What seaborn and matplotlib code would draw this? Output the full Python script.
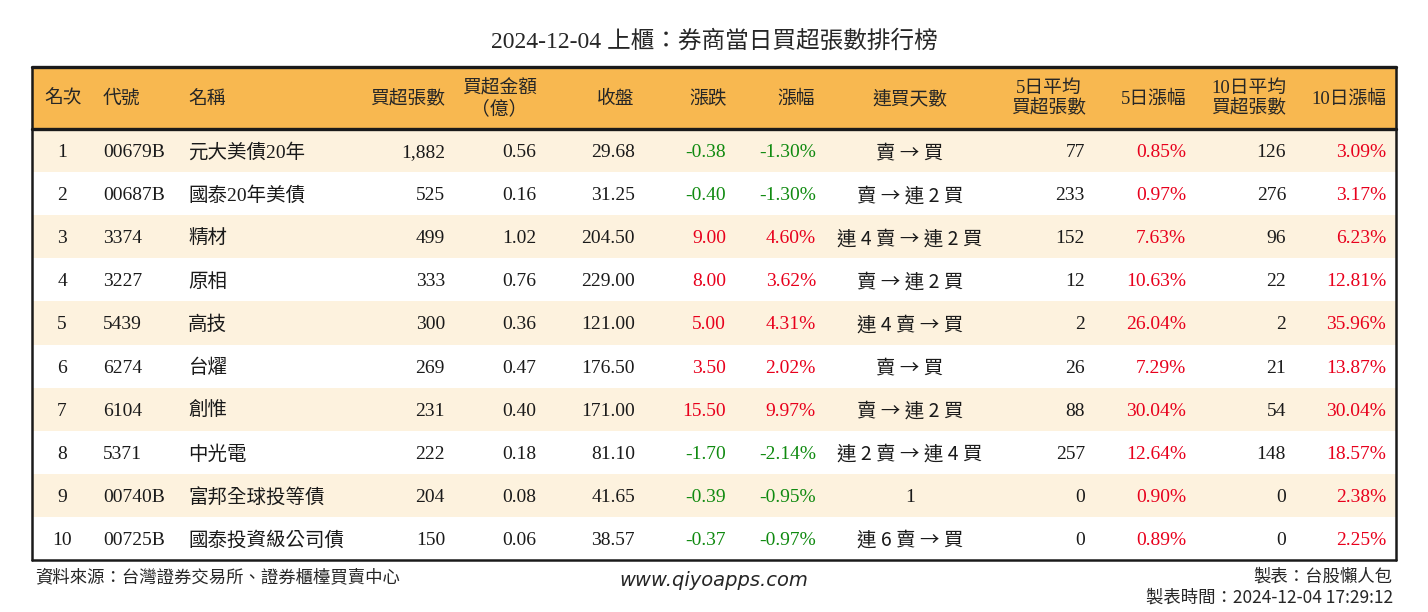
""" Broker net-buy ranking table (TPEx) """

import numpy as np
import seaborn as sns
from matplotlib import pyplot as plt
from matplotlib.colors import ListedColormap
from matplotlib.patches import Rectangle

# #############################################
# Data
rank = [1, 2, 3, 4, 5, 6, 7, 8, 9, 10]
codes = ['00679B', '00687B', '3374', '3227', '5439', '6274', '6104', '5371',
         '00740B', '00725B']
names = ['元大美債20年', '國泰20年美債', '精材', '原相', '高技', '台燿', '創惟',
         '中光電', '富邦全球投等債', '國泰投資級公司債']
net_buy = [1882, 525, 499, 333, 300, 269, 231, 222, 204, 150]
amount = [0.56, 0.16, 1.02, 0.76, 0.36, 0.47, 0.40, 0.18, 0.08, 0.06]
close = [29.68, 31.25, 204.50, 229.00, 121.00, 176.50, 171.00, 81.10, 41.65, 38.57]
change = [-0.38, -0.40, 9.00, 8.00, 5.00, 3.50, 15.50, -1.70, -0.39, -0.37]
pct = [-1.30, -1.30, 4.60, 3.62, 4.31, 2.02, 9.97, -2.14, -0.95, -0.97]
streak = ['賣 → 買', '賣 → 連 2 買', '連 4 賣 → 連 2 買', '賣 → 連 2 買',
          '連 4 賣 → 買', '賣 → 買', '賣 → 連 2 買', '連 2 賣 → 連 4 買', '1',
          '連 6 賣 → 買']
avg5 = [77, 233, 152, 12, 2, 26, 88, 257, 0, 0]
pct5 = [0.85, 0.97, 7.63, 10.63, 26.04, 7.29, 30.04, 12.64, 0.90, 0.89]
avg10 = [126, 276, 96, 22, 2, 21, 54, 148, 0, 0]
pct10 = [3.09, 3.17, 6.23, 12.81, 35.96, 13.87, 30.04, 18.57, 2.38, 2.25]

headers = ['名次', '代號', '名稱', '買超張數', '買超金額\n（億）', '收盤', '漲跌',
           '漲幅', '連買天數', '5日平均\n買超張數', '5日漲幅', '10日平均\n買超張數',
           '10日漲幅']

title = '2024-12-04 上櫃：券商當日買超張數排行榜'

# Colours
ORANGE = '#F8B850'
CREAM = '#FDF2DE'
RED = '#E8001C'
GREEN = '#108A10'

FONT = ['Liberation Serif', 'Noto Sans CJK TC']
SANS = ['Noto Sans CJK TC', 'DejaVu Sans']

# Layout (pixel units)
W, H = 1428, 612
x0, x1 = 32, 1396
top, head_bot, bot = 67, 129, 560
nrow = len(rank)
row_h = (bot - head_bot) / nrow

# column: (data x, data ha, header x, header ha)
cols = [(62, 'center', 44, 'left'),
        (103, 'left', 103, 'left'),
        (188, 'left', 188, 'left'),
        (445, 'right', 445, 'right'),
        (536, 'right', 537, 'right'),
        (635, 'right', 634, 'right'),
        (726, 'right', 727, 'right'),
        (816, 'right', 815, 'right'),
        (910, 'center', 910, 'center'),
        (1085, 'right', 1086, 'right'),
        (1186, 'right', 1186, 'right'),
        (1286, 'right', 1286, 'right'),
        (1386, 'right', 1386, 'right')]


def signed_color(v):
    return GREEN if v < 0 else RED


def fig_table(outfile='out.png'):
    sns.set_theme(style='white')
    plt.rcParams['font.family'] = FONT

    fig = plt.figure(figsize=(W/100, H/100), dpi=100)

    # Body stripes through seaborn heatmap
    ax_b = fig.add_axes([x0/W, 1-bot/H, (x1-x0)/W, (bot-head_bot)/H])
    stripes = np.array([[ii % 2] for ii in range(nrow)])
    sns.heatmap(stripes, cmap=ListedColormap([CREAM, 'white']), cbar=False,
                xticklabels=False, yticklabels=False, ax=ax_b)

    # Overlay in pixel coords
    ax = fig.add_axes([0, 0, 1, 1])
    ax.set_xlim(0, W)
    ax.set_ylim(H, 0)
    ax.axis('off')

    ax.add_patch(Rectangle((x0, top), x1-x0, head_bot-top, color=ORANGE,
                           zorder=0))
    # Borders
    ax.plot([x0, x1], [top, top], color='k', lw=2.4)
    ax.plot([x0, x1], [head_bot, head_bot], color='k', lw=2.4)
    ax.plot([x0, x1], [bot, bot], color='k', lw=1.8)
    ax.plot([x0, x0], [top, bot], color='k', lw=1.8)
    ax.plot([x1, x1], [top, bot], color='k', lw=1.8)

    fs = 14
    # Title
    ax.text(W/2, 42, title, ha='center', va='center', fontsize=17)

    # Header
    ymid = (top + head_bot) / 2 + 1
    for hh, (_, _, hx, hha) in zip(headers, cols):
        ax.text(hx, ymid, hh, ha=hha, va='center', fontsize=13.5,
                linespacing=1.2, multialignment='center')

    # Rows
    for ii in range(nrow):
        yc = head_bot + (ii + 0.5) * row_h + 2
        vals = [(str(rank[ii]), 'k'),
                (codes[ii], 'k'),
                (names[ii], 'k'),
                (f'{net_buy[ii]:,}', 'k'),
                (f'{amount[ii]:.2f}', 'k'),
                (f'{close[ii]:.2f}', 'k'),
                (f'{change[ii]:.2f}', signed_color(change[ii])),
                (f'{pct[ii]:.2f}%', signed_color(pct[ii])),
                (streak[ii], 'k'),
                (f'{avg5[ii]:,}', 'k'),
                (f'{pct5[ii]:.2f}%', signed_color(pct5[ii])),
                (f'{avg10[ii]:,}', 'k'),
                (f'{pct10[ii]:.2f}%', signed_color(pct10[ii]))]
        for (txt, cc), (dx, dha, _, _) in zip(vals, cols):
            # arrows look better in the CJK font
            fam = SANS if '→' in txt else FONT
            ax.text(dx, yc, txt, ha=dha, va='center', fontsize=fs, color=cc,
                    family=fam)

    # Footer
    ax.text(35, 577, '資料來源：台灣證券交易所、證券櫃檯買賣中心', ha='left',
            va='center', fontsize=12.5, family=SANS)
    ax.text(W/2, 580, 'www.qiyoapps.com', ha='center', va='center',
            fontsize=14, style='italic', family=['DejaVu Sans'])
    ax.text(1392, 577, '製表：台股懶人包', ha='right', va='center',
            fontsize=12.5, family=SANS)
    ax.text(1393, 598, '製表時間：2024-12-04 17:29:12', ha='right',
            va='center', fontsize=12.5, family=SANS)

    plt.savefig(outfile, dpi=100)
    print(f"Saved: {outfile}")


if __name__ == '__main__':
    fig_table()
